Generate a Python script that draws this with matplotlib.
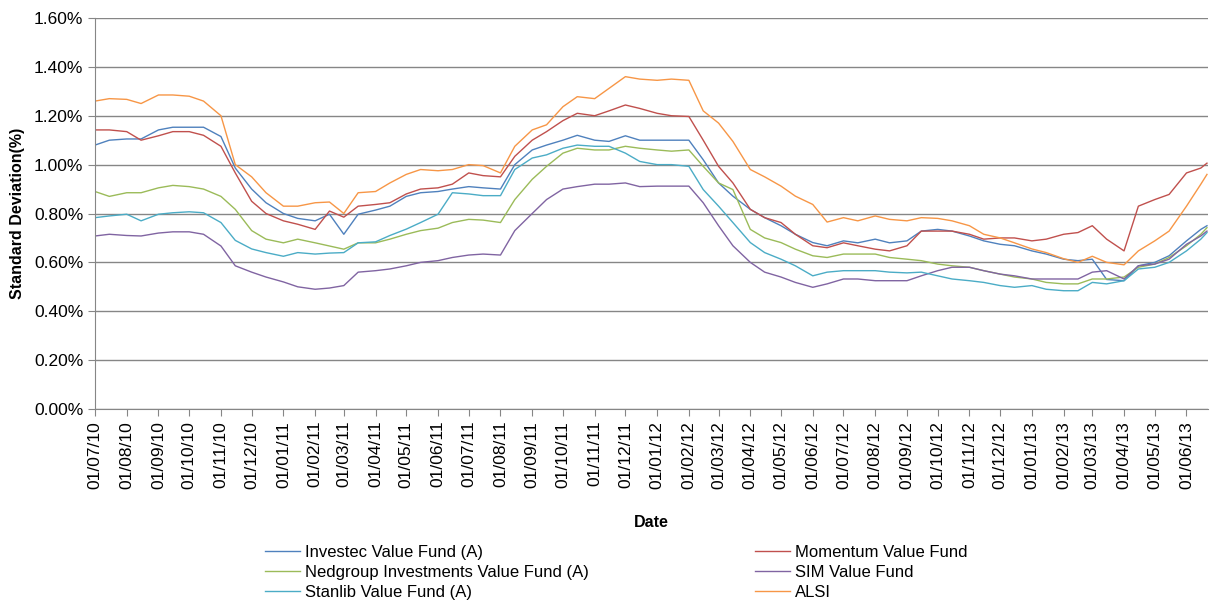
import matplotlib
matplotlib.use("Agg")
import matplotlib.pyplot as plt
import matplotlib.dates as mdates
from matplotlib.ticker import FuncFormatter
import pandas as pd

# half-monthly readings (1st and 15th), last point = end of series
dates = list(pd.date_range("2010-07-01", "2013-06-15", freq="SMS")) + [pd.Timestamp("2013-06-21")]

investec = [1.08, 1.10, 1.105, 1.105, 1.142, 1.153, 1.153, 1.153, 1.115, 0.986, 0.90, 0.844, 0.80,
            0.78, 0.77, 0.797, 0.715, 0.797, 0.814, 0.83, 0.87, 0.885, 0.89, 0.90,
            0.91, 0.905, 0.90, 1.0, 1.06, 1.08, 1.10, 1.12, 1.10, 1.095, 1.118, 1.10,
            1.10, 1.10, 1.10, 1.02, 0.925, 0.871, 0.817, 0.783, 0.75, 0.715, 0.681, 0.668,
            0.688, 0.68, 0.695, 0.68, 0.688, 0.728, 0.735, 0.728, 0.708, 0.688, 0.674, 0.668,
            0.647, 0.634, 0.613, 0.607, 0.613, 0.53, 0.525, 0.586, 0.60, 0.627, 0.688, 0.735, 0.75]
momentum = [1.142, 1.142, 1.135, 1.10, 1.118, 1.135, 1.135, 1.12, 1.075, 0.966, 0.85, 0.80, 0.77,
            0.756, 0.735, 0.81, 0.785, 0.83, 0.837, 0.844, 0.88, 0.90, 0.905, 0.92,
            0.966, 0.955, 0.95, 1.034, 1.10, 1.135, 1.18, 1.21, 1.20, 1.22, 1.244, 1.23,
            1.21, 1.20, 1.197, 1.10, 0.993, 0.925, 0.817, 0.783, 0.763, 0.715, 0.668, 0.66,
            0.68, 0.668, 0.654, 0.647, 0.668, 0.728, 0.728, 0.728, 0.715, 0.695, 0.70, 0.70,
            0.688, 0.695, 0.715, 0.722, 0.75, 0.695, 0.647, 0.83, 0.857, 0.878, 0.966, 0.986, 1.006]
nedgroup = [0.89, 0.87, 0.885, 0.885, 0.905, 0.915, 0.91, 0.90, 0.87, 0.817, 0.73, 0.695, 0.68,
            0.695, 0.68, 0.667, 0.654, 0.68, 0.68, 0.695, 0.715, 0.73, 0.74, 0.763,
            0.776, 0.773, 0.763, 0.857, 0.94, 0.993, 1.047, 1.067, 1.06, 1.06, 1.075, 1.067,
            1.06, 1.055, 1.06, 0.993, 0.925, 0.898, 0.735, 0.70, 0.681, 0.654, 0.627, 0.62,
            0.634, 0.634, 0.634, 0.62, 0.613, 0.607, 0.593, 0.586, 0.58, 0.566, 0.552, 0.54,
            0.532, 0.518, 0.512, 0.512, 0.532, 0.532, 0.54, 0.58, 0.593, 0.62, 0.668, 0.715, 0.742]
sim = [0.708, 0.715, 0.71, 0.708, 0.72, 0.725, 0.725, 0.715, 0.667, 0.586, 0.56, 0.54, 0.52,
       0.50, 0.49, 0.495, 0.505, 0.56, 0.566, 0.573, 0.586, 0.60, 0.607, 0.62,
       0.63, 0.634, 0.63, 0.73, 0.80, 0.857, 0.90, 0.91, 0.92, 0.92, 0.925, 0.91,
       0.912, 0.912, 0.912, 0.844, 0.75, 0.668, 0.60, 0.56, 0.54, 0.518, 0.498, 0.512,
       0.532, 0.532, 0.525, 0.525, 0.525, 0.545, 0.566, 0.58, 0.58, 0.566, 0.552, 0.545,
       0.532, 0.532, 0.532, 0.532, 0.56, 0.566, 0.532, 0.586, 0.593, 0.613, 0.674, 0.708, 0.728]
stanlib = [0.783, 0.79, 0.797, 0.77, 0.797, 0.803, 0.807, 0.803, 0.763, 0.69, 0.655, 0.64, 0.625,
           0.64, 0.634, 0.638, 0.64, 0.68, 0.684, 0.71, 0.736, 0.763, 0.797, 0.885,
           0.88, 0.873, 0.873, 0.98, 1.027, 1.04, 1.067, 1.08, 1.075, 1.075, 1.047, 1.013,
           1.0, 1.0, 0.993, 0.898, 0.83, 0.763, 0.681, 0.64, 0.613, 0.586, 0.545, 0.56,
           0.566, 0.566, 0.566, 0.56, 0.557, 0.56, 0.545, 0.532, 0.525, 0.518, 0.505, 0.498,
           0.505, 0.49, 0.484, 0.484, 0.518, 0.512, 0.525, 0.573, 0.58, 0.60, 0.647, 0.695, 0.722]
alsi = [1.26, 1.27, 1.267, 1.25, 1.285, 1.285, 1.28, 1.26, 1.20, 1.00, 0.95, 0.885, 0.83,
        0.83, 0.844, 0.847, 0.80, 0.885, 0.89, 0.925, 0.96, 0.98, 0.975, 0.98,
        1.00, 0.996, 0.966, 1.075, 1.142, 1.163, 1.237, 1.278, 1.27, 1.312, 1.36, 1.35,
        1.345, 1.35, 1.345, 1.22, 1.17, 1.095, 0.98, 0.95, 0.912, 0.871, 0.837, 0.765,
        0.783, 0.77, 0.79, 0.776, 0.77, 0.783, 0.78, 0.77, 0.75, 0.715, 0.70, 0.68,
        0.655, 0.64, 0.615, 0.60, 0.625, 0.60, 0.59, 0.647, 0.688, 0.728, 0.83, 0.92, 0.96]

series = [
    ("Investec Value Fund (A)", investec, "#4F81BD"),
    ("Nedgroup Investments Value Fund (A)", nedgroup, "#9BBB59"),
    ("Stanlib Value Fund (A)", stanlib, "#4BACC6"),
    ("Momentum Value Fund", momentum, "#C0504D"),
    ("SIM Value Fund", sim, "#8064A2"),
    ("ALSI", alsi, "#F79646"),
]

plt.rcParams["font.family"] = ["Liberation Sans", "DejaVu Sans"]

fig = plt.figure(figsize=(12.1, 6.03), dpi=100)
ax = fig.add_axes([95 / 1210, 1 - 409 / 603, 1113 / 1210, 391 / 603])

# draw in Excel order so ALSI sits on top
for name, vals, col in [series[0], series[3], series[1], series[4], series[2], series[5]]:
    ax.plot(dates, vals, color=col, lw=1.0, label=name)

ax.set_ylim(0, 1.6)
ax.set_yticks([0.2 * i for i in range(9)])
ax.yaxis.set_major_formatter(FuncFormatter(lambda v, p: "%.2f%%" % v))
ax.set_xlim(pd.Timestamp("2010-07-01"), pd.Timestamp("2013-06-22"))
ax.xaxis.set_major_locator(mdates.MonthLocator(bymonthday=1))
ax.xaxis.set_major_formatter(mdates.DateFormatter("%d/%m/%y"))
plt.setp(ax.get_xticklabels(), rotation=90)

ax.grid(axis="y", color="#868686", lw=1)
ax.set_axisbelow(True)
for s in ["top", "right"]:
    ax.spines[s].set_visible(False)
for s in ["left", "bottom"]:
    ax.spines[s].set_color("#868686")
ax.tick_params(axis="both", colors="#868686", labelcolor="black", labelsize=12.5, length=5, direction="out")

ax.set_ylabel("Standard Deviation(%)", fontsize=11.5, fontweight="bold", labelpad=6)
ax.set_xlabel("Date", fontsize=11.5, fontweight="bold", labelpad=19)

handles, labels = ax.get_legend_handles_labels()
order = [labels.index(s[0]) for s in series]
fig.legend([handles[i] for i in order], [labels[i] for i in order], ncol=2,
           loc="upper left", bbox_to_anchor=(258 / 1210, 1 - 538 / 603), frameon=False,
           fontsize=12, handlelength=2.1, handletextpad=0.3, columnspacing=10.0,
           labelspacing=0.3, borderaxespad=0)

plt.savefig("out.png", dpi=100)
